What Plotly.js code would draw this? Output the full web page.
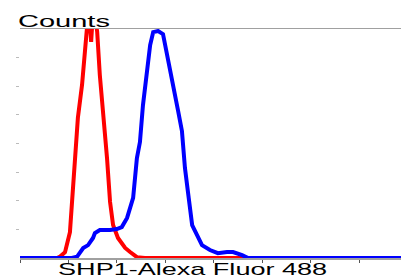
<!DOCTYPE html>
<html>
<head>
<meta charset="utf-8">
<script src="https://cdn.plot.ly/plotly-3.0.1.min.js"></script>
<style>html,body{margin:0;padding:0;background:#fff;}#chart{width:401px;height:275px;}</style>
</head>
<body>
<div id="chart"></div>
<script>
// Channel (fluorescence) values and counts
const isotypeX = [0, 98, 106, 119, 132, 143, 153, 164, 172, 177, 182, 188, 194, 198, 204, 211, 219, 230, 238, 246, 259, 278, 291, 309, 330, 1007];
const isotypeY = [0, 0, 5, 20, 90, 290, 490, 605, 745, 830, 880, 755, 880, 850, 790, 639, 524, 349, 196, 115, 70, 35, 21, 3, 0, 0];

const shp1X = [0, 137, 151, 167, 180, 185, 193, 198, 211, 238, 256, 269, 283, 291, 299, 309, 317, 325, 336, 344, 352, 365, 378, 391, 404, 418, 428, 436, 444, 455, 468, 481, 502, 523, 547, 563, 587, 603, 1007];
const shp1Y = [0, 0, 5, 35, 45, 55, 70, 87, 98, 98, 101, 108, 140, 175, 210, 349, 405, 534, 650, 744, 789, 793, 782, 699, 607, 513, 444, 314, 230, 115, 80, 45, 28, 17, 21, 21, 10, 0, 0];

const yTickVals = [100, 200, 300, 400, 500, 600, 700];
const xLabel = 'SHP1-Alexa Fluor 488';
const yLabel = 'Counts';

const traces = [
  {x: isotypeX, y: isotypeY, type: 'scatter', mode: 'lines', line: {color: '#ff0000', width: 4}, hoverinfo: 'skip'},
  {x: shp1X, y: shp1Y, type: 'scatter', mode: 'lines', line: {color: '#0000ff', width: 4}, hoverinfo: 'skip'}
];

const layout = {
  width: 401, height: 275,
  margin: {l: 20, r: 0, t: 29, b: 17, pad: 0},
  paper_bgcolor: '#ffffff', plot_bgcolor: '#ffffff',
  showlegend: false,
  xaxis: {
    range: [0, 1007], tickmode: 'linear', tick0: 0, dtick: 128,
    ticks: 'outside', ticklen: 3, tickwidth: 1, tickcolor: '#555',
    showticklabels: false, showgrid: false, zeroline: false,
    showline: true, linecolor: '#a0a0a0', linewidth: 1.5, mirror: true
  },
  yaxis: {
    range: [0, 800], tickmode: 'array', tickvals: yTickVals,
    ticks: 'outside', ticklen: 3, tickwidth: 1, tickcolor: '#bbbbbb',
    showticklabels: false, showgrid: false, zeroline: false, showline: false
  },
  annotations: [
    {text: yLabel, xref: 'paper', yref: 'paper', x: 0, y: 1, xanchor: 'left', yanchor: 'bottom',
     xshift: 15, yshift: -4, showarrow: false, font: {family: 'Liberation Sans, Arial', size: 17, color: '#000'}},
    {text: xLabel, xref: 'paper', yref: 'paper', x: 0.453, y: 0, xanchor: 'center', yanchor: 'top',
     yshift: 0, showarrow: false, font: {family: 'Liberation Sans, Arial', size: 17, color: '#000'}}
  ]
};

Plotly.newPlot('chart', traces, layout, {staticPlot: true, displayModeBar: false}).then(function () {
  const widths = {};
  widths[yLabel] = 92;
  widths[xLabel] = 269;
  document.querySelectorAll('.annotation-text').forEach(function (t) {
    const w = widths[t.textContent];
    if (w) {
      t.setAttribute('textLength', w);
      t.setAttribute('lengthAdjust', 'spacingAndGlyphs');
    }
  });
});
</script>
</body>
</html>
